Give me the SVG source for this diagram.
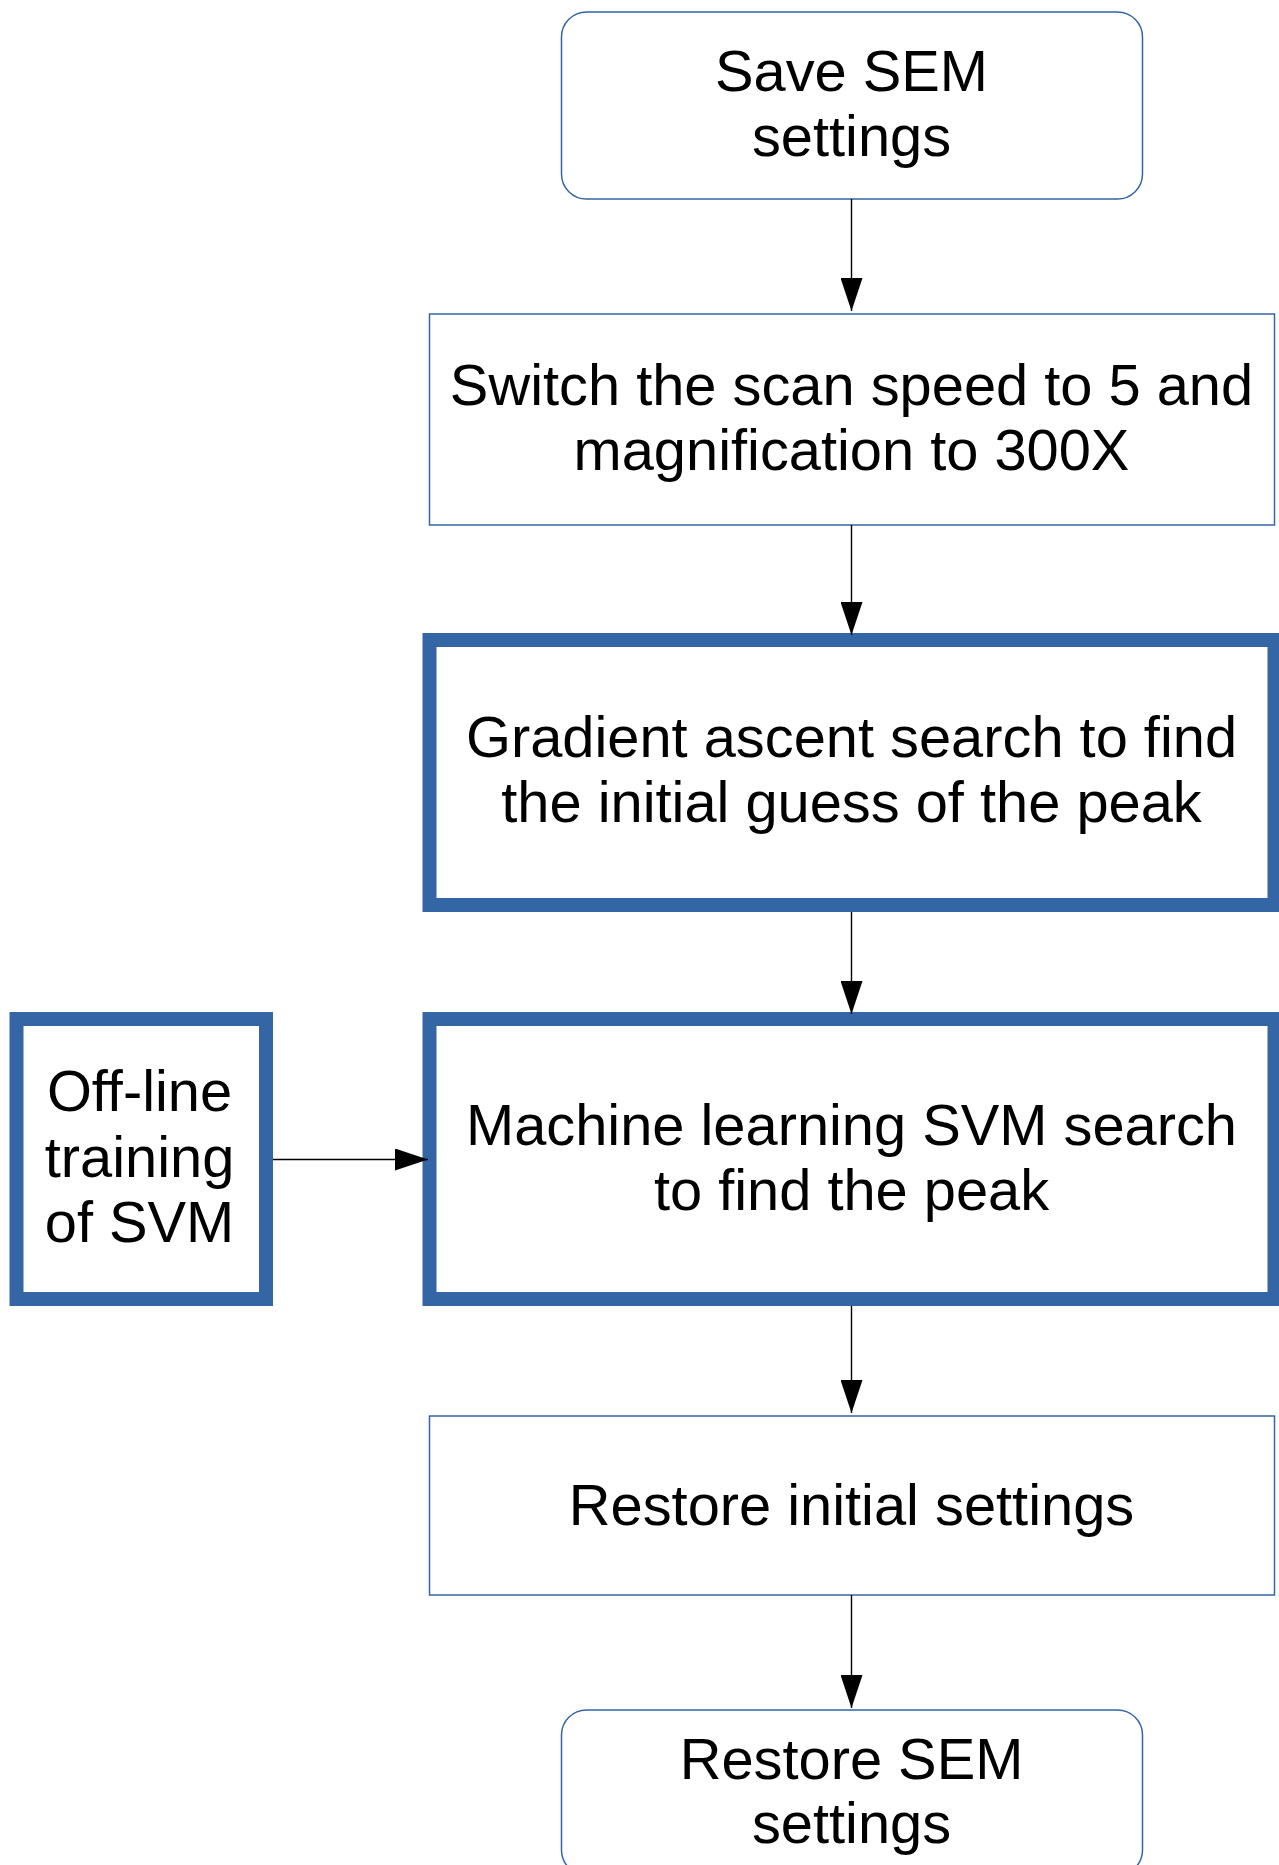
<svg xmlns="http://www.w3.org/2000/svg" width="1279" height="1865" viewBox="0 0 1279 1865">
<defs>
<style>
.box{fill:#ffffff;stroke:#3465a4;stroke-width:1.5}
.thick{fill:#ffffff;stroke:#3465a4;stroke-width:14}
.lbl{font-family:"Liberation Sans",Arial,sans-serif;font-size:57.8px;fill:#000000;text-anchor:middle}
.conn{stroke:#000000;stroke-width:1.4;fill:none;marker-end:url(#arr)}
</style>
<marker id="arr" viewBox="0 0 33 22" refX="33" refY="11" markerWidth="33" markerHeight="22" markerUnits="userSpaceOnUse" orient="auto">
<path d="M0,0 L33,11 L0,22 z" fill="#000000"/>
</marker>
</defs>
<rect width="1279" height="1865" fill="#ffffff"/>
<g id="save-sem">
<rect class="box" x="561.5" y="12" width="581" height="187" rx="25" ry="25"/>
<text class="lbl" x="851.5" y="91">Save SEM</text>
<text class="lbl" x="851.5" y="156">settings</text>
</g>
<g id="switch-scan">
<rect class="box" x="429.5" y="314" width="845" height="211"/>
<text class="lbl" x="851.5" y="405">Switch the scan speed to 5 and</text>
<text class="lbl" x="851.5" y="470">magnification to 300X</text>
</g>
<g id="gradient-ascent">
<rect class="thick" x="429.5" y="640" width="845" height="265"/>
<text class="lbl" x="851.5" y="757">Gradient ascent search to find</text>
<text class="lbl" x="851.5" y="822">the initial guess of the peak</text>
</g>
<g id="offline-training">
<rect class="thick" x="16.5" y="1019" width="249.5" height="280"/>
<text class="lbl" x="139.5" y="1111">Off-line</text>
<text class="lbl" x="139.5" y="1177">training</text>
<text class="lbl" x="139.5" y="1242">of SVM</text>
</g>
<g id="svm-search">
<rect class="thick" x="429.5" y="1019" width="845" height="280"/>
<text class="lbl" x="851.5" y="1145">Machine learning SVM search</text>
<text class="lbl" x="851.5" y="1210">to find the peak</text>
</g>
<g id="restore-initial">
<rect class="box" x="429.5" y="1416" width="845" height="179"/>
<text class="lbl" x="851.5" y="1525">Restore initial settings</text>
</g>
<g id="restore-sem">
<rect class="box" x="561.5" y="1710" width="581" height="165" rx="25" ry="25"/>
<text class="lbl" x="851.5" y="1779">Restore SEM</text>
<text class="lbl" x="851.5" y="1843">settings</text>
</g>
<g id="connectors">
<line class="conn" x1="851.5" y1="199" x2="851.5" y2="311"/>
<line class="conn" x1="851.5" y1="525" x2="851.5" y2="635"/>
<line class="conn" x1="851.5" y1="912" x2="851.5" y2="1014"/>
<line class="conn" x1="851.5" y1="1306" x2="851.5" y2="1413"/>
<line class="conn" x1="851.5" y1="1595" x2="851.5" y2="1708"/>
<line class="conn" x1="273" y1="1159.5" x2="428" y2="1159.5"/>
</g>
</svg>
